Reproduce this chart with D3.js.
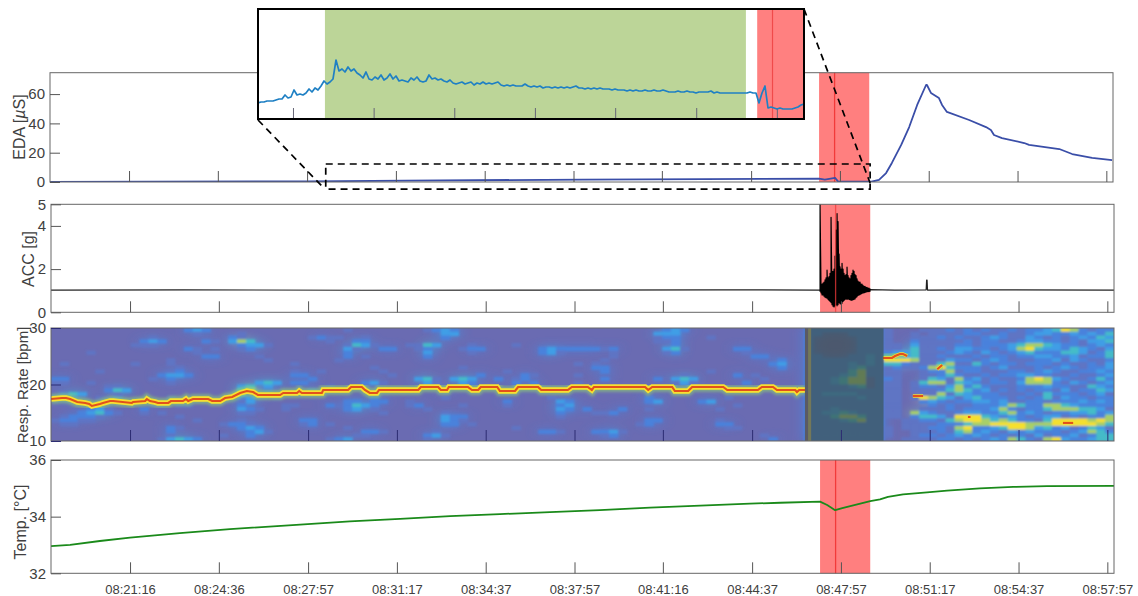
<!DOCTYPE html>
<html><head><meta charset="utf-8">
<style>html,body{margin:0;padding:0;background:#fff}svg{display:block}
text{font-family:"Liberation Sans",Arial,sans-serif;fill:#404040}</style>
<script src="https://cdn.jsdelivr.net/npm/d3@7"></script></head><body>
<svg id="c" width="1138" height="596"></svg>
<script>
// ---- shared time axis (seconds since 08:18:18)
const timeDomain=[0,2394];
const tickSeconds=[178,378,579,779,979,1179,1378,1579,1779,1979,2179,2379];
const tickLabels=["08:21:16","08:24:36","08:27:57","08:31:17","08:34:37","08:37:57","08:41:16","08:44:37","08:47:57","08:51:17","08:54:37","08:57:57"];
const redBand=[1732,1845], redLine=1767, greenBand=[657,1701];

// ---- EDA
const edaT=[0,579,800,1200,1732,1745,1755,1768,1775,1850,1867,1883,1896,1917,1935,1953,1973,1975,1984,2002,2009,2020,2070,2108,2119,2126,2144,2194,2205,2273,2302,2347,2392];
const edaV=[0.1,0.4,1,1.6,2.3,1.6,2.1,2.8,0.3,0.2,1.4,6.1,13,25.3,37.5,52.6,66.2,66.2,60.8,57.3,52.6,47.8,42.3,37.5,35.5,32.1,30,26.6,25.3,22.5,19.1,16.4,15];
// inset trace: relative height in the zoom box, one reading every 7.44 s from 491 s
const insetStart=491, insetStep=7.44;
const insetV=[16,17,17,18,18,18,19,20,20,24,21,22,29,24,25,24,26,30,27,31,29,33,38,35,37,40,59,48,50,47,52,48,50,46,44,41,47,40,39,42,40,44,39,41,45,40,43,38,39,38,37,41,39,42,38,37,38,44,40,41,39,40,38,37,39,36,35,36,37,35,36,37,34,36,35,37,35,36,35,36,37,34,33,34,33,34,33,33,33,35,33,32,33,32,33,31,32,32,31,32,31,32,31,32,31,32,33,31,31,30,31,30,31,30,31,30,30,30,29,30,29,29,29,28,29,28,29,28,28,29,28,28,29,28,28,29,28,27,27,27,28,27,27,28,27,27,26,27,27,27,27,28,26,27,26,26,26,26,26,26,26,26,26,26,27,26,26,16,26,33,11,12,11,10,11,10,10,10,10,11,12,14,15];

// ---- ACC
const accBaseT=[0,300,700,1100,1500,1730,1845,1900,1971,1972,1973,1974,2100,2394];
const accBaseV=[1.03,1.04,1.02,1.03,1.04,1.03,1.05,1.03,1.04,1.49,1.49,1.03,1.04,1.03];
const accBurstStart=1732, accBurstStep=2.25;
const accHi=[5,1.2,1.3,1.35,1.4,1.5,1.6,1.95,1.6,1.65,1.8,4.4,1.9,1.9,2,2.6,3.8,4.57,4.2,2.7,2.1,2,2.27,2,1.8,1.7,1.75,2.09,1.7,1.6,1.55,1.7,1.8,1.95,1.9,1.75,1.7,1.55,1.45,1.4,1.4,1.3,1.3,1.25,1.2,1.2,1.15,1.15,1.12,1.12,1.1];
const accLo=[.95,.9,.8,.8,.75,.7,.68,.65,.6,.55,.5,.45,.35,.28,.25,.3,.35,.3,.35,.45,.4,.38,.42,.5,.55,.6,.62,.6,.62,.6,.58,.56,.56,.58,.6,.62,.68,.72,.78,.8,.82,.85,.88,.9,.9,.92,.94,.95,.96,.96,.97];

// ---- Resp. rate spectrogram (levels 0-7), rows from 30 down to 10 bpm
const heatLeft=[
"0000000000 0000023200 0000000000 0001000000 0012320000 0000000000 0000000002 3200000000 00000",
"0000000000 0000001000 0100000000 0000000000 0000330000 0000000000 0000000033 3000000000 00000",
"0000000000 0100000000 2100000001 2110010000 0000200000 0000000000 0000000012 2000100000 00000",
"0000000000 2320000210 3540000000 0100220000 0000000000 0000000000 0000000011 2000000000 00000",
"0000000001 1100000000 0233100000 0001431000 1143000100 0010000000 0000000000 2000000000 00000",
"0000000000 0000021010 0120000000 0003100220 0120001220 0000023222 2212000003 4100000220 00000",
"0000100000 0000001000 0000000000 0002000000 0030000100 0000023100 0001000001 2000000010 00000",
"0000000000 0000000220 0001000000 0002010000 0020000000 0000000000 0001000000 0000000002 20000",
"0000000000 0001000000 0000100000 0010000000 0000000000 0000000000 0010000000 0000000000 00200",
"0100000001 0001000000 0000000100 0000000000 0000000000 0000000001 0100000000 0000000000 02300",
"0000000000 0000100000 0000000000 0000001000 0000001000 0000000000 0220000000 0000000000 00200",
"0000010000 0001200000 0000000100 1000000100 0000000000 0100000000 0020000000 0000100000 00000",
"0000000000 0023320000 0000000220 0000000010 0000000020 0002100001 0000000000 0100000201 00000",
"2200000000 0102000000 0000000002 0000000000 0341034300 2012000000 0020000020 3430000000 10000",
"1100100000 0001000000 0003430220 0000023100 0031003200 0020200001 0000000000 1310000020 00000",
"0000001100 0000000000 0340300000 0100000000 0000000000 0001000000 0000000000 0000000000 00000",
"0000002430 0000000000 0450200002 0000000000 0000200000 0000000000 0000000000 0000000000 00000",
"0243000100 0000000000 0412000000 0000000000 0000000000 0000000000 0000000000 0000000000 00000",
"2320011200 0001000000 0230010000 0000002000 0000100000 0000001000 0000000200 0000001000 00000",
"0000001000 1001100000 0130000000 0002202200 1000000000 0200000320 0000000230 0002300000 00000",
"0000000000 0110110000 0200001100 0212432000 1200001000 0100000230 0000000000 0000000100 00000",
"0000231000 2000000000 0321001000 0002301000 0010000000 0000000320 2000200100 0000010000 00000",
"0002342100 1010000000 0110000000 0000000100 0000100000 0000000200 0112000000 0000000000 00000",
"0122210000 0000100000 0000000000 0000000000 0000322000 0000000100 0000000000 0000000000 00000",
"1221100000 0000001000 0100000022 0000000000 0000321000 0000000000 0000000220 0000010000 00000",
"0110000000 0000000001 2210000012 0100000000 0000220100 0000000000 0000001200 0000022000 00000",
"0000000000 0002100000 0232000000 0001000000 0000000000 0010000000 0000000000 0000001100 00000",
"0000000000 0002000000 0023100000 0000022100 0001000000 0000022100 0223100000 0000000000 00000",
"0000000000 0001000001 0020000000 0000110000 0023100000 0000000000 0012000000 0000000000 10000",
"0000000000 0013432000 0000000000 0123000000 0010000000 0000000000 0000000000 0000000000 02000"];
const heatMid=["222222222","220002222","200000222","200000222","200000222","200000222","200000222","220002232","222222232","222223232","222223422","222224522","222234522","222345512","222345512","222223412","222222222","223333222","222222322","222222222","222222222","222322222","223343222","222455422","222234522","222222222","222222222","222222222","222222222","222222222"];
const heatRight=[
"1000111212 1211212234 652122","1001011112 2112112332 232324","1001112121 1232113212 123243","1002111112 1221123322 121334","1103111122 1222345543 221232",
"1104112133 2212356433 243213","2334111232 1321234222 443124","4434112111 2122122332 231224","6665111322 1232111223 132112","4421114511 4212212221 211213",
"1211256422 2123111212 321223","1100122512 2111221232 112232","1100112421 1212233221 121123","2100143152 3121125653 211242","1101455143 2122135552 132123",
"1101221352 4211122232 211432","1101112454 2312121221 312243","1100115143 2221112142 221231","1101654313 4222121241 322122","1100232122 3323112212 223232",
"1100021211 2223542255 432222","1100111212 2235212245 554431","1105321123 3224523212 233423","1102443166 6432321233 121225","0011221456 6545422146 666565",
"0011112224 5566665556 666654","1011122156 2234665342 312431","1001112145 2321323222 123542","1001221232 3212121312 231244","0011112212 1232542156 322344"];
const heatColors=["#6a6bb2","#5f74c4","#4a82dc","#3f9ee6","#45bcc8","#a8cf68","#f6e02e","#fa9a20"];
const occluded=[1698,1875];
const ridgeT=[0,25,34,43,59,77,86,92,110,117,133,140,182,185,212,216,223,234,241,264,270,297,304,309,320,354,363,381,392,408,426,441,455,466,516,523,554,559,565,583,610,613,669,676,700,707,718,734,739,827,833,872,878,892,896,939,948,962,968,1005,1011,1045,1052,1097,1104,1158,1164,1173,1209,1218,1223,1338,1345,1354,1399,1405,1435,1444,1514,1523,1592,1601,1626,1635,1676,1680,1685,1698];
const ridgeB=[17.43,17.6,17.6,17.43,16.9,16.73,16.55,16.2,16.55,16.73,17.07,17.07,16.73,16.9,17.07,17.43,17.07,16.9,16.73,16.73,17.07,17.07,17.43,17.07,17.43,17.43,17.07,17.07,17.6,17.8,18.5,18.85,18.67,18.14,18.14,18.5,18.5,18.85,18.5,18.5,18.5,19.03,19.03,19.56,19.56,19.03,18.5,18.5,19.03,19.03,19.56,19.56,19.03,19.03,19.56,19.56,19.03,19.03,19.56,19.56,18.85,18.85,19.56,19.56,19.03,19.03,19.03,19.56,19.56,19.03,19.56,19.56,19.03,19.56,19.56,18.85,18.85,19.56,19.56,19.03,19.03,19.56,19.56,19.03,19.03,18.67,19.03,19.03];
const ridgeSegments=[
 {t:[1874,1894,1901,1912,1919,1928],b:[24.7,24.7,25.04,25.4,25.4,25.04]},
 {t:[1941,1964],b:[17.96,17.96]},
 {t:[1996,2007],b:[22.7,23.45]},
 {t:[2065,2071],b:[14.25,14.25]},
 {t:[2279,2302],b:[13.2,13.2]}];

// ---- Temperature
const tempT=[0,43,110,178,290,403,561,673,786,899,1011,1124,1236,1349,1462,1574,1642,1732,1748,1766,1782,1845,1867,1885,1919,1973,2018,2092,2167,2243,2394];
const tempV=[32.96,33,33.14,33.26,33.42,33.56,33.72,33.83,33.92,34.02,34.09,34.16,34.23,34.32,34.39,34.46,34.49,34.53,34.41,34.23,34.3,34.55,34.61,34.7,34.79,34.86,34.92,35,35.05,35.08,35.09];

// ---- layout
const svg=d3.select("#c");
const panels={
 eda:{x:[50,1113],y:[182,72.7],dom:[0,74.6],ticks:[0,20,40,60],label:"EDA [µS]",lx:19,ly:127,fs:16},
 acc:{x:[51,1114],y:[312.3,204.3],dom:[0,5],ticks:[0,2,4,5],label:"ACC [g]",lx:28,ly:259,fs:16},
 resp:{x:[51,1114],y:[441,328],dom:[10,30],ticks:[10,20,30],label:"Resp. Rate [bpm]",lx:23,ly:385,fs:15},
 temp:{x:[51,1114],y:[573.3,460],dom:[32,36],ticks:[32,34,36],label:"Temp. [°C]",lx:20,ly:522,fs:16}};
for(const k in panels){const p=panels[k];
 p.sx=d3.scaleLinear().domain(timeDomain).range(p.x);
 p.sy=d3.scaleLinear().domain(p.dom).range(p.y);
 p.g=svg.append("g");}
const defs=svg.append("defs");
const blur=(id,dev)=>defs.append("filter").attr("id",id).attr("x","-0.1").attr("y","-0.1").attr("width","1.2").attr("height","1.2")
 .append("feGaussianBlur").attr("stdDeviation",dev);
blur("soft","1.3 0.8"); blur("haze","7 5"); blur("edge","1.5");
for(const k in panels){const p=panels[k];
 defs.append("clipPath").attr("id","clip-"+k).append("rect")
  .attr("x",p.x[0]).attr("y",p.y[1]).attr("width",p.x[1]-p.x[0]).attr("height",p.y[0]-p.y[1]);}

function band(p,dom){
 p.g.append("rect").attr("x",p.sx(dom[0])).attr("width",p.sx(dom[1])-p.sx(dom[0]))
  .attr("y",p.y[1]).attr("height",p.y[0]-p.y[1]).attr("fill","#ff0000").attr("fill-opacity",.5);
}
function bandLine(p,op){
 p.g.append("line").attr("x1",p.sx(redLine)).attr("x2",p.sx(redLine)).attr("y1",p.y[1]).attr("y2",p.y[0])
  .attr("stroke","#f23a3a").attr("stroke-width",1.3).attr("stroke-opacity",op);
}
function trace(p,t,v,color,w,clip){
 const l=d3.line().x(i=>p.sx(t[i])).y(i=>p.sy(v[i]));
 p.g.append("path").attr("d",l(d3.range(t.length))).attr("fill","none")
  .attr("stroke",color).attr("stroke-width",w).attr("stroke-linejoin","round")
  .attr("clip-path","url(#clip-"+clip+")");
}
function frame(p,showX,tickColor){
 const g=p.g.append("g");
 const h=p.y[0]-p.y[1], w=p.x[1]-p.x[0];
 g.append("rect").attr("x",p.x[0]).attr("y",p.y[1]).attr("width",w).attr("height",h)
  .attr("fill","none").attr("stroke","#666").attr("stroke-width",1);
 const ax=d3.axisBottom(p.sx).tickValues(tickSeconds).tickSizeInner(-11).tickSizeOuter(0)
   .tickPadding(showX?11.5:0).tickFormat((d,i)=>showX?tickLabels[i]:"");
 const gx=g.append("g").attr("transform",`translate(0,${p.y[0]})`).call(ax);
 gx.select(".domain").remove();
 gx.selectAll("line").attr("stroke",tickColor||"#555");
 gx.selectAll("text").attr("font-size",13).attr("font-family",null).attr("fill","#404040");
 const ay=d3.axisLeft(p.sy).tickValues(p.ticks).tickSizeInner(-10).tickSizeOuter(0).tickPadding(5).tickFormat(d3.format("d"));
 const gy=g.append("g").attr("transform",`translate(${p.x[0]},0)`).call(ay);
 gy.select(".domain").remove();
 gy.selectAll("line").attr("stroke",tickColor||"#555");
 gy.selectAll("text").attr("font-size",15).attr("font-family",null).attr("fill","#404040");
 const t=g.append("text").attr("transform",`translate(${p.lx},${p.ly}) rotate(-90)`)
  .attr("text-anchor","middle").attr("dy","0.35em").attr("font-size",p.fs);
 p.label.split(/(µ)/).forEach(s=>t.append("tspan").attr("font-style",s==="µ"?"italic":null).text(s));
}

// EDA
{const p=panels.eda; band(p,redBand); bandLine(p,1); trace(p,edaT,edaV,"#3a4ea8",1.8,"eda"); frame(p,false);}
// ACC
{const p=panels.acc; band(p,redBand);
 trace(p,accBaseT,accBaseV,"#222",1.2,"acc");
 const t=[],v=[]; accHi.forEach((h,i)=>{const s=accBurstStart+i*accBurstStep;t.push(s,s);v.push(accLo[i],h);});
 trace(p,t,v,"#000",1.2,"acc");
 bandLine(p,.75);
 frame(p,false);}
// Resp
{const p=panels.resp;
 const rows=d3.range(heatLeft.length);
 const grid=rows.map(r=>(heatLeft[r]+heatMid[r]+heatRight[r]).replace(/ /g,"").split("").map(Number));
 const nCols=d3.max(grid,r=>r.length);
 const cx=d3.scaleBand().domain(d3.range(nCols)).range(p.x);
 const cy=d3.scaleBand().domain(rows).range([p.y[1],p.y[0]]);
 const outer=p.g.append("g").attr("clip-path","url(#clip-resp)");
 const layer=(filter,opacity,minLevel)=>{
  const hg=outer.append("g").attr("filter","url(#"+filter+")").attr("opacity",opacity);
  grid.forEach((row,r)=>{hg.selectAll(null).data(row.map((v,c)=>({v,c})).filter(d=>d.v>=minLevel)).enter().append("rect")
   .attr("x",d=>cx(d.c)).attr("y",cy(r)).attr("width",cx.bandwidth()+.5).attr("height",cy.bandwidth()+.5)
   .attr("fill",d=>heatColors[d.v]);});
 };
 outer.append("rect").attr("x",p.x[0]).attr("y",p.y[1]).attr("width",p.x[1]-p.x[0]).attr("height",p.y[0]-p.y[1]).attr("fill",heatColors[0]);
 layer("haze",.9,2);
 layer("soft",1,1);
 const addRidge=(t,b,halo)=>{
  const l=d3.line().x(i=>p.sx(t[i])).y(i=>p.sy(b[i]));
  const d=l(d3.range(t.length));
  outer.append("path").attr("d",d).attr("fill","none").attr("stroke","#8cc878").attr("stroke-width",halo+4).attr("stroke-opacity",.7).attr("filter","url(#edge)");
  outer.append("path").attr("d",d).attr("fill","none").attr("stroke","#f8e030").attr("stroke-width",halo);
  outer.append("path").attr("d",d).attr("fill","none").attr("stroke","#e2501c").attr("stroke-width",2.1);
 };
 addRidge(ridgeT,ridgeB,5.5);
 ridgeSegments.forEach(s=>addRidge(s.t,s.b,3.5));
 // occluded stretch
 outer.append("rect").attr("x",p.sx(occluded[0])).attr("width",p.sx(occluded[1])-p.sx(occluded[0]))
  .attr("y",p.y[1]).attr("height",p.y[0]-p.y[1]).attr("fill","#3c4f4a").attr("fill-opacity",.66);
 outer.append("rect").attr("x",p.sx(occluded[0])).attr("width",p.sx(occluded[0]+7)-p.sx(occluded[0]))
  .attr("y",p.y[1]).attr("height",p.y[0]-p.y[1]).attr("fill","#5a5a64");
 outer.append("rect").attr("x",p.sx(occluded[0]+7)).attr("width",p.sx(occluded[0]+14)-p.sx(occluded[0]+7))
  .attr("y",p.y[1]).attr("height",p.y[0]-p.y[1]).attr("fill","#86804e").attr("fill-opacity",.75);
 frame(p,false,"#2c2c72");
}
// Temp
{const p=panels.temp; band(p,redBand); bandLine(p,1); trace(p,tempT,tempV,"#1a8a1a",1.8,"temp"); frame(p,true);}

// inset
const box={x:[258,804],y:[119,9]};
const ix=d3.scaleLinear().domain([insetStart,insetStart+insetStep*(insetV.length-1)]).range(box.x);
const iy=d3.scaleLinear().domain([0,110]).range(box.y);
const ig=svg.append("g");
defs.append("clipPath").attr("id","clip-inset").append("rect").attr("x",box.x[0]).attr("y",box.y[1]).attr("width",box.x[1]-box.x[0]).attr("height",box.y[0]-box.y[1]);
ig.append("rect").attr("x",box.x[0]).attr("y",box.y[1]).attr("width",box.x[1]-box.x[0]).attr("height",box.y[0]-box.y[1]).attr("fill","#fff");
const ic=ig.append("g").attr("clip-path","url(#clip-inset)");
ic.append("rect").attr("x",ix(greenBand[0])).attr("width",ix(greenBand[1])-ix(greenBand[0])).attr("y",box.y[1]).attr("height",110).attr("fill","#bcd598");
ic.append("rect").attr("x",ix(redBand[0]-3)).attr("width",ix(redBand[1]+20)-ix(redBand[0]-3)).attr("y",box.y[1]).attr("height",110).attr("fill","#ff8080");
ic.append("line").attr("x1",ix(redLine)).attr("x2",ix(redLine)).attr("y1",box.y[1]).attr("y2",box.y[0]).attr("stroke","#f04a4a").attr("stroke-width",1.2);
ic.selectAll("line.t").data(tickSeconds).enter().append("line").attr("class","t")
 .attr("x1",d=>ix(d)).attr("x2",d=>ix(d)).attr("y1",box.y[0]).attr("y2",box.y[0]-11).attr("stroke","#667");
ic.append("path").attr("d",d3.line().x((d,i)=>ix(insetStart+i*insetStep)).y(d=>iy(d))(insetV))
 .attr("fill","none").attr("stroke","#1f80c4").attr("stroke-width",1.7).attr("stroke-linejoin","round");
ig.append("rect").attr("x",box.x[0]).attr("y",box.y[1]).attr("width",box.x[1]-box.x[0]).attr("height",box.y[0]-box.y[1]).attr("fill","none").attr("stroke","#000").attr("stroke-width",2);

// zoom region markers
const ed=panels.eda;
const zoomT=[621,1847], zoomV=[-4.8,12.3];
const zx0=ed.sx(zoomT[0]), zx1=ed.sx(zoomT[1]), zy0=ed.sy(zoomV[1]), zy1=ed.sy(zoomV[0]);
const dash=g=>g.attr("fill","none").attr("stroke","#000").attr("stroke-width",1.7).attr("stroke-dasharray","7 5");
svg.append("rect").attr("x",zx0).attr("y",zy0).attr("width",zx1-zx0).attr("height",zy1-zy0).call(dash);
svg.append("line").attr("x1",box.x[0]).attr("y1",box.y[0]+1).attr("x2",zx0-1).attr("y2",zy1).call(dash);
svg.append("line").attr("x1",box.x[1]).attr("y1",box.y[1]).attr("x2",zx1).attr("y2",zy1-6).call(dash);
</script></body></html>
